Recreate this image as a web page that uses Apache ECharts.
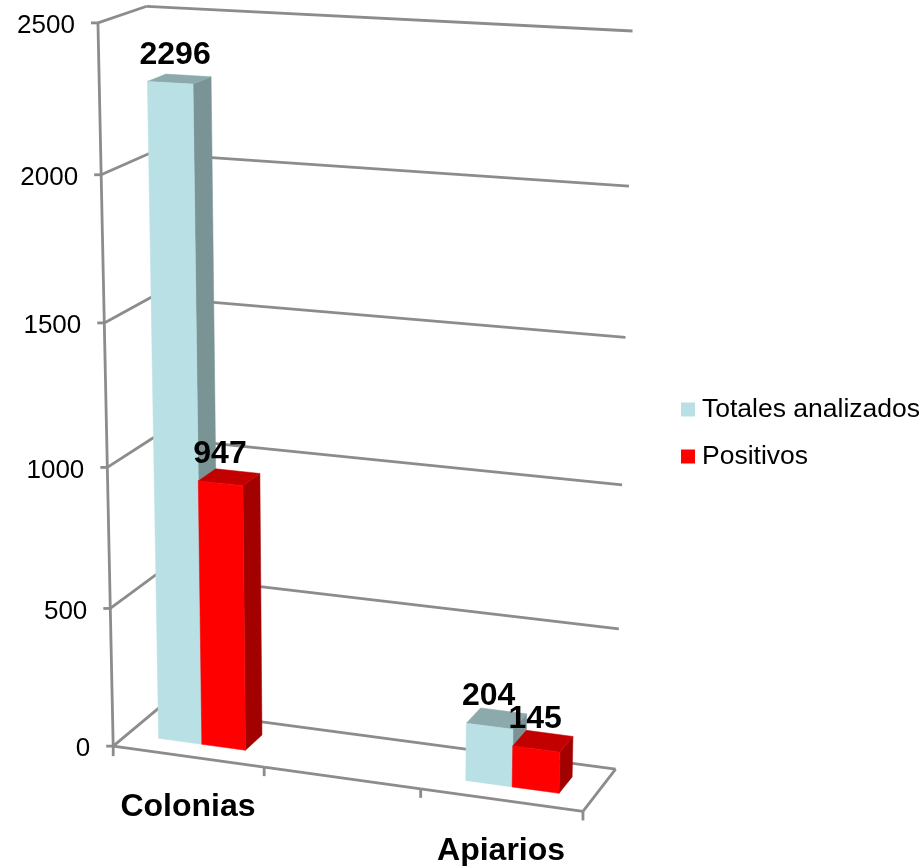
<!DOCTYPE html>
<html>
<head>
<meta charset="utf-8">
<style>html,body{margin:0;padding:0;background:#fff}#chart{width:923px;height:866px}</style>
<script src="https://cdn.jsdelivr.net/npm/echarts@6/dist/echarts.min.js"></script>
</head>
<body>
<div id="chart"></div>
<script>
// Chart values
const categories = ['Colonias', '', 'Apiarios'];
const totales = [2296, null, 204];
const positivos = [947, null, 145];
const yTicks = [0, 500, 1000, 1500, 2000, 2500];
const yMax = 2500;

// Box corners and wall marks as [x, y, z, screenX, screenY]; x, y, z run 0..1 inside the 3D box
const boxAnchors = [
  [0, 0, 0, 113, 747], [0, 1, 0, 97, 23], [0, 1, 1, 145, 7], [0, 0, 1, 159, 708],
  [1, 1, 1, 632, 31], [1, 0, 1, 615, 768], [1, 0, 0, 582, 811],
  [1 / 3, 0, 0, 264, 768], [2 / 3, 0, 0, 420, 790],
  [0, 0.2, 0, 110, 608], [0, 0.4, 0, 108, 466], [0, 0.6, 0, 106, 322], [0, 0.8, 0, 102, 175],
  [1, 0.2, 1, 620, 629], [1, 0.4, 1, 622, 485], [1, 0.6, 1, 626, 338], [1, 0.8, 1, 630, 186]
];

// Least-squares fit of the 3x4 camera matrix
function fitCamera(points) {
  const n = 11, s = 1000;
  const A = Array.from({length: n}, () => new Array(n + 1).fill(0));
  const addRow = (r, b) => {
    for (let i = 0; i < n; i++) {
      for (let j = 0; j < n; j++) A[i][j] += r[i] * r[j];
      A[i][n] += r[i] * b;
    }
  };
  points.forEach(([x, y, z, u0, v0]) => {
    const u = u0 / s, v = v0 / s;
    addRow([x, y, z, 1, 0, 0, 0, 0, -u * x, -u * y, -u * z], u);
    addRow([0, 0, 0, 0, x, y, z, 1, -v * x, -v * y, -v * z], v);
  });
  for (let c = 0; c < n; c++) {
    let p = c;
    for (let r = c + 1; r < n; r++) if (Math.abs(A[r][c]) > Math.abs(A[p][c])) p = r;
    [A[c], A[p]] = [A[p], A[c]];
    for (let r = 0; r < n; r++) {
      if (r === c) continue;
      const f = A[r][c] / A[c][c];
      for (let k = c; k <= n; k++) A[r][k] -= f * A[c][k];
    }
  }
  const m = A.map((row, i) => row[n] / row[i]);
  return ([x, y, z]) => {
    const w = m[8] * x + m[9] * y + m[10] * z + 1;
    return [
      s * (m[0] * x + m[1] * y + m[2] * z + m[3]) / w,
      s * (m[4] * x + m[5] * y + m[6] * z + m[7]) / w
    ];
  };
}
const project = fitCamera(boxAnchors);

// Hidden helper grid: its scales turn data values into 0..1 box coordinates
const GRID = {left: 0, top: 0, width: 900, height: 800};
const toBox = (px, py) => [(px - GRID.left) / GRID.width, (GRID.top + GRID.height - py) / GRID.height];

const LINE = '#8c8c8c';
const LINE_W = 2.8;
const TEXT = '#000';
const FONT = 'Liberation Sans, Arial, sans-serif';

function seg(a, b) {
  return {
    type: 'line',
    shape: {x1: a[0], y1: a[1], x2: b[0], y2: b[1]},
    style: {stroke: LINE, lineWidth: LINE_W, fill: null}
  };
}
function label(text, x, y, size, weight, align) {
  return {
    type: 'text',
    z2: 50,
    style: {text, x, y, align: align || 'center', verticalAlign: 'middle', fill: TEXT,
      font: (weight || 'normal') + ' ' + size + 'px ' + FONT}
  };
}

// One gridline per tick: left wall, back wall, tick mark and label
function renderGridline(params, api) {
  const y = toBox(0, api.coord([0, api.value(0)])[1])[1];
  const f = project([0, y, 0]), b = project([0, y, 1]), r = project([1, y, 1]);
  return {
    type: 'group',
    children: [
      seg(f, b), seg(b, r),
      seg([f[0] - 7, f[1]], f),
      label(String(api.value(0)), f[0] - 23, f[1] + 3, 26, 'normal', 'right')
    ]
  };
}

// Category separators with ticks, category names under the front floor edge
function renderFloor(params, api) {
  const i = api.value(0);
  const c0 = toBox(api.coord([i, 0])[0] - api.size([1, 0])[0] / 2, 0)[0];
  const c1 = c0 + toBox(api.size([1, 0])[0], 0)[0];
  const a = project([c0, 0, 0]), b = project([c1, 0, 0]);
  const children = [seg(a, b), seg(b, [b[0], b[1] + 9])];
  if (i === 0) children.push(seg(a, [a[0], a[1] + 10]));
  const mid = project([(c0 + c1) / 2, 0, 0]);
  if (categories[i]) children.push(label(categories[i], mid[0], mid[1] + 51, 32, 'bold'));
  return {type: 'group', children};
}

// Floor outline and the vertical front axis
function renderFrame() {
  return {
    type: 'group',
    children: [
      seg(project([0, 0, 0]), project([0, 1, 0])),
      seg(project([1, 0, 0]), project([1, 0, 1]))
    ]
  };
}

const Z0 = 0.31, Z1 = 0.70;   // bar depth inside the box
const INSET = 0.21;           // gap at each side of a category

function barRenderer(slot, colors) {
  return function (params, api) {
    const val = api.value(1);
    if (val == null || isNaN(val)) return null;
    const i = api.value(0);
    const cw = toBox(api.size([1, 0])[0], 0)[0];
    const c0 = toBox(api.coord([i, 0])[0], 0)[0] - cw / 2;
    const bw = cw * (1 - 2 * INSET) / 2;
    const x0 = c0 + cw * INSET + slot * bw, x1 = x0 + bw;
    const top = toBox(0, api.coord([i, val])[1])[1];
    const P = (x, y, z) => project([x, y, z]);
    const poly = (pts, fill) => ({
      type: 'polygon',
      shape: {points: pts},
      style: {fill, stroke: fill, lineWidth: 0.5}
    });
    // Value label sits over the bar head and drifts right on the tallest bars
    const head = P((x0 + x1) / 2, top, Z0);
    const dx = 7.7 * top * top * top - 1;
    const dy = -30 + 3 * top;
    return {
      type: 'group',
      children: [
        poly([P(x1, 0, Z0), P(x1, 0, Z1), P(x1, top, Z1), P(x1, top, Z0)], colors.side),
        poly([P(x0, top, Z0), P(x1, top, Z0), P(x1, top, Z1), P(x0, top, Z1)], colors.top),
        poly([P(x0, 0, Z0), P(x1, 0, Z0), P(x1, top, Z0), P(x0, top, Z0)], colors.front),
        label(String(val), head[0] + dx, head[1] + dy, 32, 'bold')
      ]
    };
  };
}

const axisHidden = {show: false};
const chart = echarts.init(document.getElementById('chart'));
chart.setOption({
  animation: false,
  backgroundColor: '#fff',
  grid: GRID,
  xAxis: {type: 'category', data: categories, ...axisHidden},
  yAxis: {type: 'value', min: 0, max: yMax, interval: 500, ...axisHidden},
  legend: {
    left: 676, top: 391, orient: 'vertical', itemWidth: 14, itemHeight: 14, itemGap: 20,
    icon: 'rect', selectedMode: false,
    data: ['Totales analizados', 'Positivos'],
    textStyle: {fontFamily: FONT, fontSize: 26.5, color: TEXT, padding: [0, 0, 0, 2]}
  },
  series: [
    {type: 'custom', name: 'frame', silent: true, z: 1, renderItem: renderGridline, data: yTicks.map(v => [v, v]), encode: {y: 0}},
    {type: 'custom', name: 'floor', silent: true, z: 1, renderItem: renderFloor, data: categories.map((c, i) => [i, 0]), encode: {x: 0, y: 1}},
    {type: 'custom', name: 'edges', silent: true, z: 1, renderItem: renderFrame, data: [[0, 0]], encode: {x: 0, y: 1}},
    {type: 'custom', name: 'Totales analizados', z: 2, itemStyle: {color: '#B9E0E4'},
      renderItem: barRenderer(0, {front: '#B9E0E4', side: '#7A9496', top: '#8CA9AC'}),
      data: categories.map((c, i) => [i, totales[i]]), encode: {x: 0, y: 1}},
    {type: 'custom', name: 'Positivos', z: 3, itemStyle: {color: '#FF0000'},
      renderItem: barRenderer(1, {front: '#FF0000', side: '#A30000', top: '#C20000'}),
      data: categories.map((c, i) => [i, positivos[i]]), encode: {x: 0, y: 1}}
  ]
});
</script>
</body>
</html>
